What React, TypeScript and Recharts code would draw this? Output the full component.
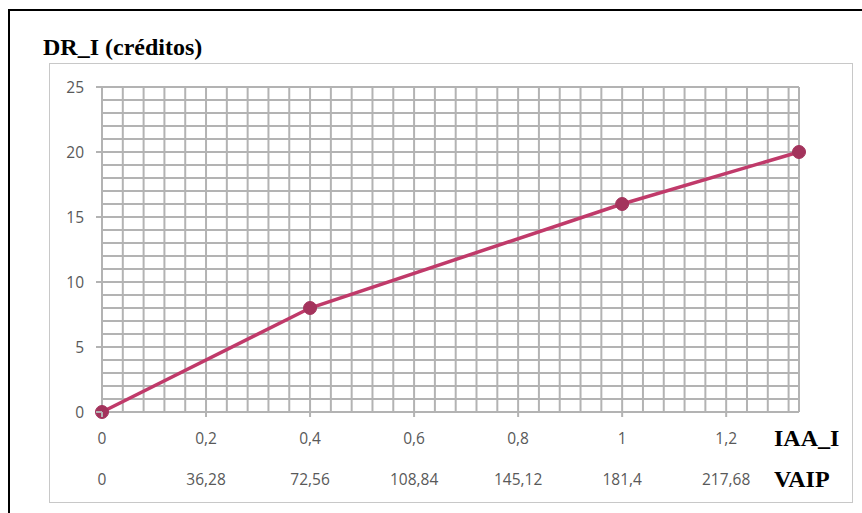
import { LineChart, Line, XAxis, YAxis, CartesianGrid } from "recharts";

// IAA_I (x) vs DR_I (créditos)
const iaaValues = [0, 0.4, 1, 1.34];
const drValues = [0, 8, 16, 20];

const xMajorTicks = [0, 0.2, 0.4, 0.6, 0.8, 1, 1.2];
const iaaLabels = ["0", "0,2", "0,4", "0,6", "0,8", "1", "1,2"];
const vaipLabels = ["0", "36,28", "72,56", "108,84", "145,12", "181,4", "217,68"];
const yMajorTicks = [0, 5, 10, 15, 20, 25];

const X_MAX = 1.34;
const X_MINOR = 0.04;
const Y_MAX = 25;

const data = iaaValues.map((x, i) => ({ x, dr: drValues[i] }));

// minor grid positions (grid only, labels come from the arrays above)
const xGridTicks = [
  ...Array.from({ length: Math.floor(X_MAX / X_MINOR + 1e-6) + 1 }, (_, i) =>
    Number((i * X_MINOR).toFixed(2))
  ),
  X_MAX,
];
const yGridTicks = Array.from({ length: Y_MAX + 1 }, (_, i) => i);

const TICK_COLOR = "#595959";
const GRID = "#b3b3b3";
const tickFont = "'Open Sans', sans-serif";

const findIdx = (arr: number[], v: number) =>
  arr.findIndex((a) => Math.abs(a - v) < 1e-6);

const XTick = (props: any) => {
  const { x, y, payload } = props;
  const i = findIdx(xMajorTicks, payload.value);
  if (i < 0) return <g />;
  return (
    <g>
      <line x1={x} y1={y} x2={x} y2={y + 5} stroke={GRID} strokeWidth={2} />
      <text
        x={x}
        y={y + 26}
        textAnchor="middle"
        dominantBaseline="central"
        fill={TICK_COLOR}
        fontSize={15.5}
        fontFamily={tickFont}
      >
        {iaaLabels[i]}
      </text>
      <text
        x={x}
        y={y + 67}
        textAnchor="middle"
        dominantBaseline="central"
        fill={TICK_COLOR}
        fontSize={15.5}
        fontFamily={tickFont}
      >
        {vaipLabels[i]}
      </text>
    </g>
  );
};

const YTick = (props: any) => {
  const { x, y, payload } = props;
  if (findIdx(yMajorTicks, payload.value) < 0) return <g />;
  return (
    <g>
      <line x1={x - 6} y1={y} x2={x} y2={y} stroke={GRID} strokeWidth={2} />
      <text
        x={x - 18}
        y={y}
        textAnchor="end"
        dominantBaseline="central"
        fill={TICK_COLOR}
        fontSize={15.5}
        fontFamily={tickFont}
      >
        {payload.value}
      </text>
    </g>
  );
};

const titleStyle: React.CSSProperties = {
  position: "absolute",
  fontFamily: "'Liberation Serif', 'Times New Roman', serif",
  fontWeight: "bold",
  fontSize: 24,
  color: "#000",
  lineHeight: 1,
  whiteSpace: "nowrap",
};

export default function App() {
  return (
    <div
      style={{
        position: "relative",
        width: 862,
        height: 513,
        overflow: "hidden",
        background: "#fff",
      }}
    >
      <style>{`html,body{margin:0;padding:0;overflow:hidden;}`}</style>
      {/* outer black frame, runs past the right and bottom edges */}
      <div
        style={{
          position: "absolute",
          left: 8,
          top: 9,
          width: 900,
          height: 600,
          border: "2px solid #000",
        }}
      />
      {/* inner chart-area frame */}
      <div
        style={{
          position: "absolute",
          left: 49,
          top: 63,
          width: 802,
          height: 438,
          border: "1.5px solid #c8c8c8",
        }}
      />
      <div style={{ ...titleStyle, left: 43, top: 35 }}>DR_I (créditos)</div>
      <div style={{ ...titleStyle, left: 774, top: 426 }}>IAA_I</div>
      <div style={{ ...titleStyle, left: 774, top: 467 }}>VAIP</div>
      <div style={{ position: "absolute", left: 0, top: 0 }}>
        <LineChart
          width={862}
          height={513}
          data={data}
          margin={{ top: 87, right: 63, bottom: 21, left: 0 }}
        >
          <CartesianGrid stroke={GRID} strokeWidth={2} />
          <XAxis
            dataKey="x"
            type="number"
            domain={[0, X_MAX]}
            ticks={xGridTicks}
            interval={0}
            tick={<XTick />}
            tickLine={false}
            tickSize={0}
            tickMargin={0}
            axisLine={{ stroke: GRID, strokeWidth: 2 }}
            height={80}
          />
          <YAxis
            type="number"
            domain={[0, Y_MAX]}
            ticks={yGridTicks}
            interval={0}
            tick={<YTick />}
            tickLine={false}
            tickSize={0}
            tickMargin={0}
            axisLine={false}
            width={102}
          />
          <Line
            dataKey="dr"
            type="linear"
            stroke="#c03a6a"
            strokeWidth={3.5}
            dot={{ r: 6.5, fill: "#a3335c", stroke: "#a3335c", strokeWidth: 1 }}
            isAnimationActive={false}
          />
        </LineChart>
      </div>
    </div>
  );
}
